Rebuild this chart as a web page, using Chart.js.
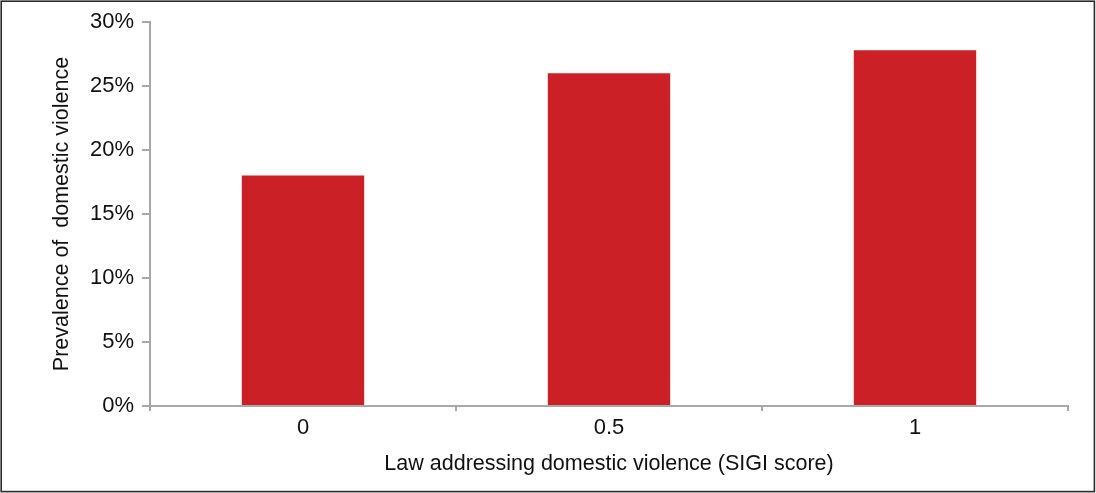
<!DOCTYPE html>
<html>
<head>
<meta charset="utf-8">
<script src="https://cdn.jsdelivr.net/npm/chart.js@4"></script>
<style>
  html, body { margin: 0; padding: 0; background: #fff; }
  #wrap { position: relative; width: 1096px; height: 493px; }
  canvas { display: block; }
</style>
</head>
<body>
<div id="wrap"><canvas id="c" width="1096" height="493"></canvas></div>
<script>
// SIGI score categories and prevalence of domestic violence (%)
const categories = ['0', '0.5', '1'];
const prevalence = [18.0, 26.0, 27.8];
const yTicks = [0, 5, 10, 15, 20, 25, 30];

const FAMILY = '"Liberation Sans", Arial, Helvetica, sans-serif';
const TICK_FONT = { family: FAMILY, size: 22 };
const TITLE_FONT = { family: FAMILY, size: 21.5 };
const AXIS_GREY = '#a8a8aa';

// Thin dark frame around the whole figure
const framePlugin = {
  id: 'frame',
  afterDraw(chart) {
    const ctx = chart.ctx;
    ctx.save();
    ctx.strokeStyle = '#2b2b2b';
    ctx.lineWidth = 1.6;
    ctx.strokeRect(1.2, 1.2, chart.width - 2.8, chart.height - 2.6);
    ctx.restore();
  }
};

new Chart(document.getElementById('c'), {
  type: 'bar',
  data: {
    labels: categories,
    datasets: [{
      data: prevalence,
      backgroundColor: '#cc2027',
      borderWidth: 0,
      barPercentage: 0.4,
      categoryPercentage: 1.0
    }]
  },
  options: {
    responsive: false,
    animation: false,
    devicePixelRatio: 1,
    layout: { padding: { left: 0, right: 28, top: 22, bottom: 0 } },
    plugins: { legend: { display: false }, tooltip: { enabled: false } },
    scales: {
      x: {
        offset: true,
        grid: { offset: true, drawOnChartArea: false, drawTicks: true, tickLength: 5, color: AXIS_GREY, lineWidth: 2 },
        border: { display: true, color: AXIS_GREY, width: 2 },
        ticks: { color: '#111', font: TICK_FONT, padding: 4 },
        title: {
          display: true,
          text: 'Law addressing domestic violence (SIGI score)',
          color: '#111',
          font: TITLE_FONT,
          padding: { top: 0, bottom: 16 }
        },
        afterFit(scale) { scale.height = 87; }
      },
      y: {
        min: 0,
        max: 30,
        afterBuildTicks(scale) { scale.ticks = yTicks.map(v => ({ value: v })); },
        grid: { drawOnChartArea: false, drawTicks: true, tickLength: 8, color: AXIS_GREY, lineWidth: 2 },
        border: { display: true, color: AXIS_GREY, width: 2 },
        ticks: { color: '#111', font: TICK_FONT, padding: 8, callback: v => v + '%' },
        title: {
          display: true,
          text: 'Prevalence of  domestic violence',
          color: '#111',
          font: TITLE_FONT,
          padding: { top: 49, bottom: 0 }
        },
        afterFit(scale) { scale.width = 150; }
      }
    }
  },
  plugins: [framePlugin]
});
</script>
</body>
</html>
